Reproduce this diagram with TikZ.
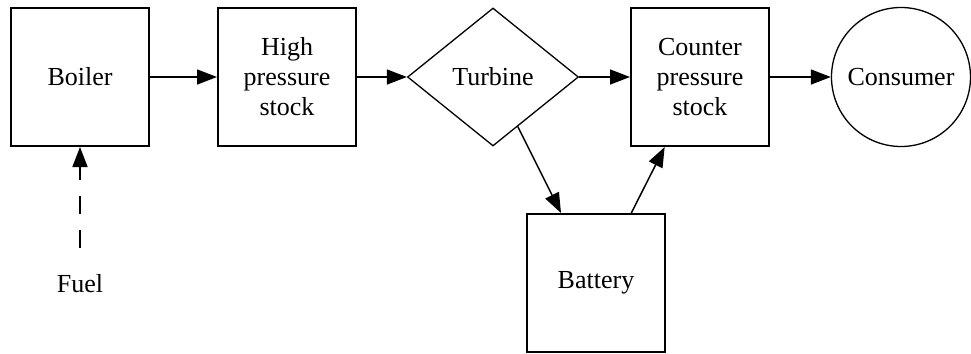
\documentclass[tikz,border=0pt]{standalone}
\usepackage{fontspec}
\setmainfont{Liberation Serif}
\usetikzlibrary{shapes.geometric,arrows.meta}

\begin{document}
\begin{tikzpicture}[
  x=0.5pt, y=-0.5pt,
  block/.style={draw, line width=1pt, minimum width=69pt, minimum height=69pt,
                inner sep=0pt, align=center, font=\fontsize{13}{15}\selectfont},
  decision/.style={draw, diamond, line width=0.65pt, aspect=1.24, minimum width=85.5pt,
                   minimum height=69pt, inner sep=0pt, font=\fontsize{13}{15}\selectfont},
  sink/.style={draw, circle, line width=0.65pt, minimum size=69.5pt, inner sep=0pt,
               font=\fontsize{13}{15}\selectfont},
  arrow/.style={-{Triangle[length=10pt,width=7.5pt]}, line width=0.75pt},
  feed/.style={arrow, dash pattern=on 9pt off 8pt, shorten <=10pt}
]
  \useasboundingbox (0,0) rectangle (971,354);

  \node[block] (boiler) at (80, 77) {Boiler};
  \node[block] (hps) at (287, 77) {High\\pressure\\stock};
  \node[decision] (turbine) at (493, 77) {Turbine};
  \node[block] (cps) at (700, 77) {Counter\\pressure\\stock};
  \node[sink] (consumer) at (901, 77) {Consumer};
  \node[block] (battery) at (596, 283) {Battery};
  \node[font=\fontsize{13}{15}\selectfont] (fuel) at (80, 284) {Fuel};

  % main steam line
  \draw[arrow] (boiler) -- (hps);
  \draw[arrow] (hps) -- (turbine);
  \draw[arrow] (turbine) -- (cps);
  \draw[arrow] (cps) -- (consumer);

  % storage loop
  \draw[arrow] (turbine) -- (battery);
  \draw[arrow] (battery) -- (cps);

  \draw[feed] (fuel) -- (boiler);
\end{tikzpicture}
\end{document}
